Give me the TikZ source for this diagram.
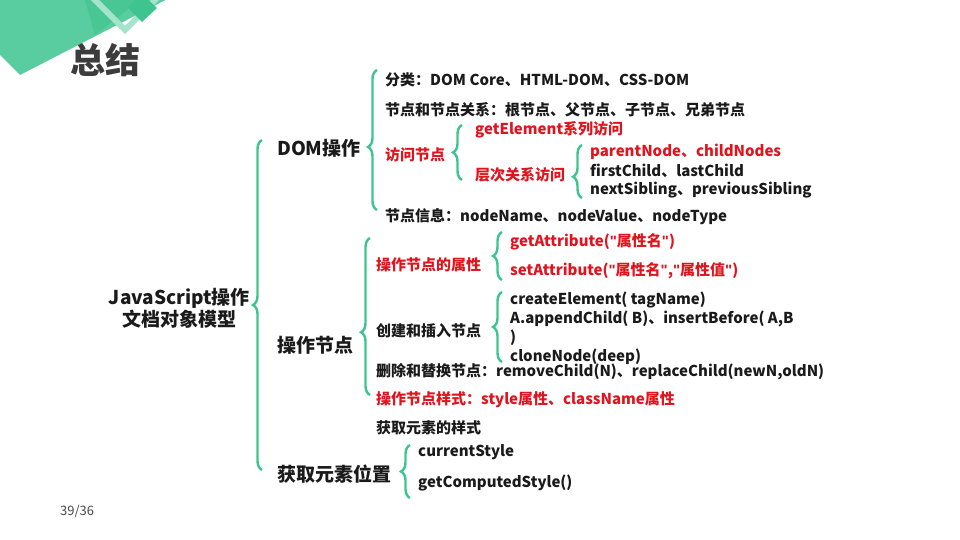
\documentclass[tikz,border=0pt]{standalone}
\usepackage{fontspec}
\setmainfont{Noto Sans CJK SC}
\newfontfamily\latfont{Liberation Sans}
\usetikzlibrary{decorations.pathreplacing}
\definecolor{mint}{HTML}{3DC48F}
\definecolor{mintlight}{HTML}{A6E3CB}
\definecolor{ink}{HTML}{1A1A1A}
\definecolor{redtxt}{HTML}{E0141E}
\newcommand{\qt}{{\latfont\symbol{34}}}

\tikzset{
	item/.style={anchor=west,inner sep=0pt,font=\fontsize{15}{17}\selectfont\bfseries,text=ink},
	head/.style={item,font=\fontsize{19}{21}\selectfont\bfseries},
	redi/.style={item,text=redtxt},
	brc/.style={draw=mint,line width=2.4pt,decorate,decoration={brace,amplitude=9pt,aspect=#1}},
	brc/.default=0.5
}

\begin{document}
\begin{tikzpicture}[x=1pt,y=-1pt]
	\useasboundingbox (0,0) rectangle (960,540);
	% corner decoration
	\fill[mint!85] (-10,-10) -- (185,-10) -- (20,75) -- (-10,45) -- cycle;
	\fill[mint,opacity=.6] (85,0) -- (140,0) -- (95,35) -- cycle;
	\draw[mintlight,line width=6pt] (90,-5) -- (125,30) -- (160,-5);
	\fill[mint] (128,8) -- (142,-6) -- (157,8) -- (142,22) -- cycle;
	\node (title) [anchor=west,inner sep=0pt,font=\fontsize{35}{37}\selectfont\bfseries,text=ink!85] at (70,60) {总结};
	\node (page) [anchor=west,inner sep=0pt,font=\fontsize{13}{14}\selectfont,text=ink!80] at (60,511) {39/36};

	% root
	\node (root) [head,anchor=east,align=center,font=\fontsize{19}{22}\selectfont\bfseries] at (250,308) {JavaScript操作\\文档对象模型};
	\draw[brc] (262,470) -- (262,140);

	% DOM operation
	\node (dom) [head] at (277,148) {DOM操作};
	\draw[brc=0.45] (377,210) -- (377,70);
	\node (cls) [item] at (385,80) {分类：DOM Core、HTML-DOM、CSS-DOM};
	\node (rel) [item] at (385,110) {节点和节点关系：根节点、父节点、子节点、兄弟节点};
	\node (visit) [redi] at (385,155) {访问节点};
	\draw[brc] (462,180) -- (462,125);
	\node (getel) [redi] at (475,130) {getElement系列访问};
	\node (hier) [redi] at (475,175) {层次关系访问};
	\draw[brc=0.4] (582,198) -- (582,145);
	\node (pn) [redi] at (590,152) {parentNode、childNodes};
	\node (fc) [item] at (590,171) {firstChild、lastChild};
	\node (ns) [item] at (590,190) {nextSibling、previousSibling};
	\node (info) [item] at (385,217) {节点信息：nodeName、nodeValue、nodeType};

	% node operation
	\node (op) [head] at (277,345) {操作节点};
	\draw[brc=0.4] (370,395) -- (370,238);
	\node (attr) [redi] at (376,265) {操作节点的属性};
	\draw[brc] (502,280) -- (502,232);
	\node (ga) [redi] at (510,242) {getAttribute(\qt 属性名\qt)};
	\node (sa) [redi] at (510,271) {setAttribute(\qt 属性名\qt,\qt 属性值\qt)};
	\node (crt) [item] at (376,331) {创建和插入节点};
	\draw[brc] (502,362) -- (502,292);
	\node (ce) [item] at (510,300) {createElement( tagName)};
	\node (ac) [item] at (510,319) {A.appendChild( B)、insertBefore( A,B};
	\node (par) [item] at (510,338) {)};
	\node (cn) [item] at (510,357) {cloneNode(deep)};
	\node (del) [item] at (376,372) {删除和替换节点：removeChild(N)、replaceChild(newN,oldN)};
	\node (sty) [redi] at (376,400) {操作节点样式：style属性、className属性};
	\node (gsty) [item] at (376,428) {获取元素的样式};

	% element position
	\node (pos) [head] at (277,474) {获取元素位置};
	\draw[brc] (410,498) -- (410,445);
	\node (cur) [item] at (418,452) {currentStyle};
	\node (gcs) [item] at (418,483) {getComputedStyle()};
\end{tikzpicture}
\end{document}
